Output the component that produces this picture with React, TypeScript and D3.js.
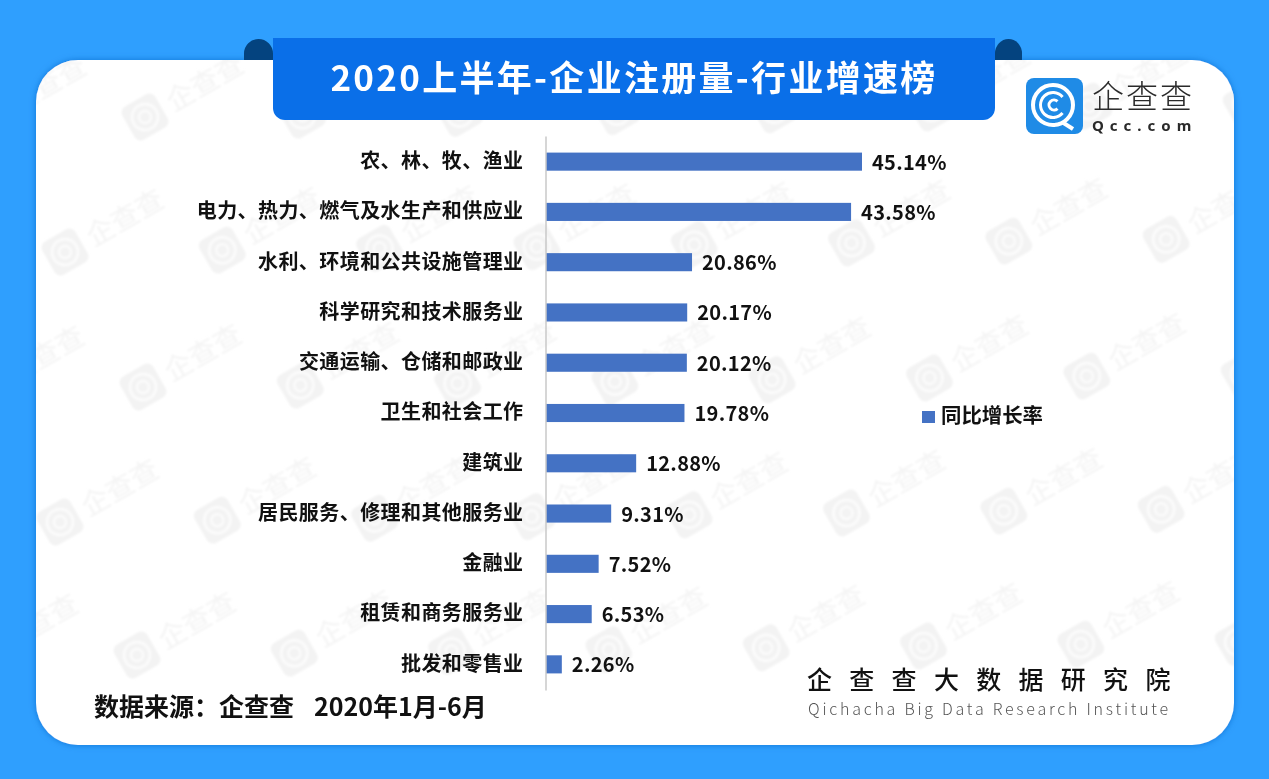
import { useEffect, useRef } from "react";
import * as d3 from "d3";

const categories = [
  "农、林、牧、渔业",
  "电力、热力、燃气及水生产和供应业",
  "水利、环境和公共设施管理业",
  "科学研究和技术服务业",
  "交通运输、仓储和邮政业",
  "卫生和社会工作",
  "建筑业",
  "居民服务、修理和其他服务业",
  "金融业",
  "租赁和商务服务业",
  "批发和零售业",
];
const growth = [45.14, 43.58, 20.86, 20.17, 20.12, 19.78, 12.88, 9.31, 7.52, 6.53, 2.26];

const titleText = "2020上半年-企业注册量-行业增速榜";
const legendText = "同比增长率";
const sourceText = "数据来源：企查查   2020年1月-6月";
const instituteCn = "企查查大数据研究院";
const instituteEn = "Qichacha Big Data Research Institute";

// watermark rows: one logo position per row, the rest repeat from it
const wmRows = [
  { y: 117, x0: 145 },
  { y: 252, x0: 65 },
  { y: 387, x0: 143 },
  { y: 522, x0: 60 },
  { y: 655, x0: 137 },
];

const font = "'Noto Sans CJK SC', 'Noto Sans', sans-serif";

const App = () => {
  const ref = useRef<SVGSVGElement>(null);

  useEffect(() => {
    const svg = d3.select(ref.current);
    svg.selectAll("*").remove();

    const defs = svg.append("defs");
    const shadow = defs.append("filter").attr("id", "cardShadow")
      .attr("x", "-5%").attr("y", "-5%").attr("width", "110%").attr("height", "110%");
    shadow.append("feDropShadow").attr("dx", 0).attr("dy", 0).attr("stdDeviation", 3)
      .attr("flood-color", "#0a62c4").attr("flood-opacity", 0.7);
    defs.append("filter").attr("id", "wmBlur")
      .append("feGaussianBlur").attr("stdDeviation", 0.9);
    defs.append("clipPath").attr("id", "cardClip")
      .append("rect").attr("x", 36).attr("y", 60).attr("width", 1198).attr("height", 685).attr("rx", 42);

    svg.append("rect").attr("width", 1269).attr("height", 779).attr("fill", "#2f9ffe");

    svg.append("rect")
      .attr("x", 36).attr("y", 60).attr("width", 1198).attr("height", 685)
      .attr("rx", 42).attr("fill", "#fff").attr("filter", "url(#cardShadow)");

    // tabs behind the banner
    svg.append("path").attr("d", "M244,60 V53.5 A14.5,14.5 0 0 1 273,53.5 V60 Z").attr("fill", "#04437f");
    svg.append("path").attr("d", "M995,60 V53.5 A13.5,14.5 0 0 1 1022,53.5 V60 Z").attr("fill", "#04437f");

    // watermark
    const wm = svg.append("g").attr("clip-path", "url(#cardClip)").append("g").attr("filter", "url(#wmBlur)");
    wmRows.forEach((row) => {
      for (let i = -1; i < 8; i++) {
        const px = row.x0 + i * 157.3;
        const py = row.y - i * 157.3 * 0.0115;
        const g = wm.append("g").attr("transform", `translate(${px},${py}) rotate(-30)`);
        g.append("rect").attr("x", -19).attr("y", -19).attr("width", 38).attr("height", 38)
          .attr("rx", 7).attr("fill", "#f3f3f3");
        g.append("circle").attr("r", 13).attr("fill", "none").attr("stroke", "#fbfbfb").attr("stroke-width", 3);
        g.append("circle").attr("r", 6).attr("fill", "none").attr("stroke", "#fbfbfb").attr("stroke-width", 2.5);
        g.append("text").attr("x", 27).attr("y", 10).attr("font-size", 28)
          .attr("font-family", font).attr("fill", "#f4f4f4").text("企查查");
      }
    });

    // banner drawn over the watermark
    svg.append("path")
      .attr("d", "M273,38 H995 V108 A12,12 0 0 1 983,120 H285 A12,12 0 0 1 273,108 Z")
      .attr("fill", "#0a6fe8");
    svg.append("text").attr("x", 634).attr("y", 91).attr("text-anchor", "middle")
      .attr("font-family", font).attr("font-weight", 700).attr("font-size", 35)
      .attr("letter-spacing", 2.3).attr("fill", "#fff").text(titleText);

    // logo
    const logo = svg.append("g").attr("transform", "translate(1026,78)");
    logo.append("rect").attr("width", 57).attr("height", 56).attr("rx", 8).attr("fill", "#1f8be6");
    logo.append("circle").attr("cx", 27).attr("cy", 27).attr("r", 20).attr("fill", "none")
      .attr("stroke", "#fff").attr("stroke-width", 4);
    logo.append("path").attr("d", d3.arc()({ innerRadius: 11, outerRadius: 14, startAngle: 0.7, endAngle: Math.PI * 2 - 0.7 }) as string)
      .attr("transform", "translate(27,27) rotate(90)").attr("fill", "#fff");
    logo.append("path").attr("d", d3.arc()({ innerRadius: 3.5, outerRadius: 6.5, startAngle: 0.8, endAngle: Math.PI * 2 - 0.8 }) as string)
      .attr("transform", "translate(28,27) rotate(90)").attr("fill", "#fff");
    logo.append("path").attr("d", "M36,44 L47,51").attr("stroke", "#fff").attr("stroke-width", 4);
    svg.append("text").attr("x", 1092).attr("y", 108)
      .attr("font-family", font).attr("font-weight", 300).attr("font-size", 32)
      .attr("letter-spacing", 2).attr("fill", "#2a2a2a").text("企查查");
    svg.append("text").attr("x", 1092).attr("y", 131)
      .attr("font-family", "'Noto Sans', sans-serif").attr("font-weight", 700).attr("font-size", 15)
      .attr("letter-spacing", 6).attr("fill", "#2a2a2a").text("Qcc.com");

    // chart
    const x = d3.scaleLinear().domain([0, 45.14]).range([546, 862]);
    const y = d3.scaleBand().domain(categories).range([136, 690]).paddingInner(0.64).paddingOuter(0.33);

    svg.selectAll(".bar")
      .data(categories)
      .enter()
      .append("rect")
      .attr("class", "bar")
      .attr("x", x(0))
      .attr("y", (d) => y(d) as number)
      .attr("width", (d, i) => x(growth[i]) - x(0))
      .attr("height", y.bandwidth())
      .attr("fill", "#4472c4");

    const axis = svg.append("g")
      .attr("transform", "translate(545.5,0)")
      .call(d3.axisLeft(y).tickSize(0).tickPadding(22));
    axis.select(".domain").attr("stroke", "#c8c8c8").attr("stroke-width", 1.5);
    axis.selectAll("text")
      .attr("font-family", font).attr("font-weight", 700).attr("font-size", 20)
      .attr("letter-spacing", 0.42).attr("fill", "#111");

    svg.selectAll(".value")
      .data(categories)
      .enter()
      .append("text")
      .attr("class", "value")
      .attr("x", (d, i) => x(growth[i]) + 10)
      .attr("y", (d) => (y(d) as number) + y.bandwidth() / 2 + 8)
      .attr("font-family", font).attr("font-weight", 700).attr("font-size", 20)
      .attr("letter-spacing", 0.3).attr("fill", "#111")
      .text((d, i) => growth[i].toFixed(2) + "%");

    // legend
    svg.append("rect").attr("x", 922).attr("y", 411).attr("width", 13).attr("height", 12).attr("fill", "#4472c4");
    svg.append("text").attr("x", 941).attr("y", 423)
      .attr("font-family", font).attr("font-weight", 700).attr("font-size", 20.4)
      .attr("fill", "#111").text(legendText);

    // footer
    svg.append("text").attr("x", 94).attr("y", 716)
      .attr("font-family", font).attr("font-weight", 700).attr("font-size", 25)
      .attr("word-spacing", 1).attr("fill", "#111").style("white-space", "pre").text(sourceText);
    svg.append("text").attr("x", 807).attr("y", 689)
      .attr("font-family", font).attr("font-weight", 500).attr("font-size", 25)
      .attr("letter-spacing", 17.3).attr("fill", "#111").text(instituteCn);
    svg.append("text").attr("x", 808).attr("y", 715)
      .attr("font-family", font).attr("font-weight", 300).attr("font-size", 16)
      .attr("letter-spacing", 2.76).attr("fill", "#555").text(instituteEn);
  }, []);

  return (
    <svg ref={ref} width={1269} height={779} style={{ position: "absolute", left: 0, top: 0 }} />
  );
};

export default App;
